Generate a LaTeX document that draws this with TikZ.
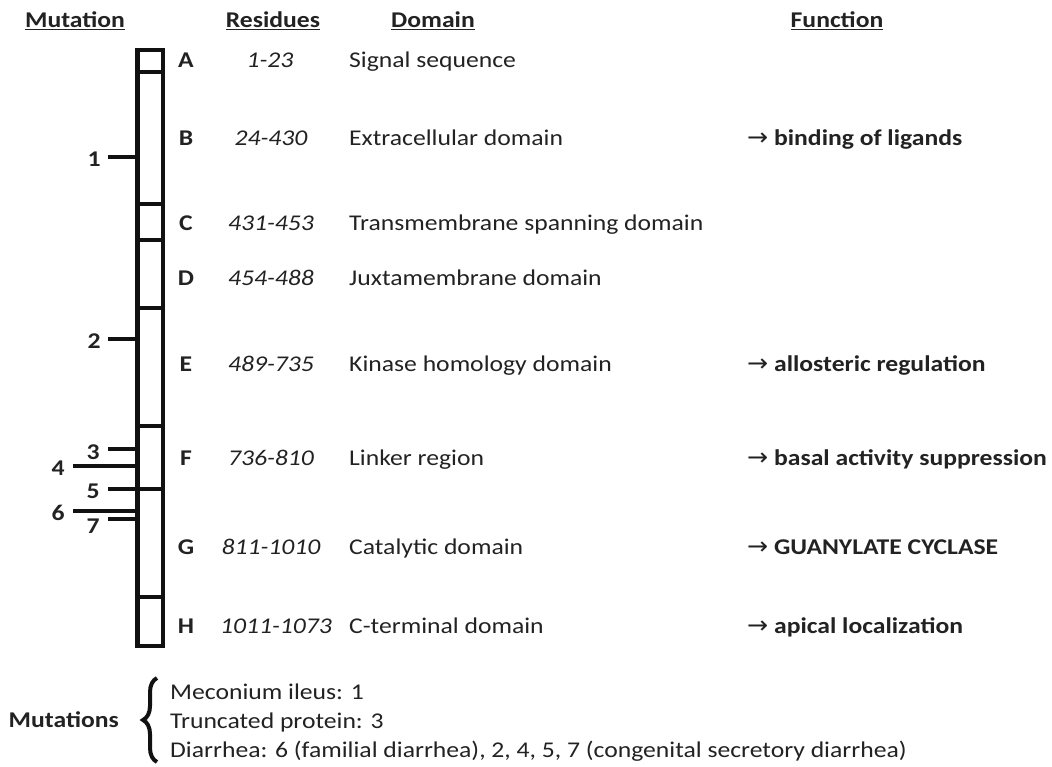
\documentclass[tikz,border=0pt]{standalone}
\usepackage{fontspec}
\setmainfont{Carlito}[FakeStretch=1.14]
\newfontfamily\arrowfont{DejaVu Sans}[FakeStretch=1.05]
\usepackage{tikz}
\usetikzlibrary{positioning, calc, decorations.pathreplacing}
\definecolor{inkblack}{HTML}{111111}
\definecolor{textgray}{HTML}{222222}
\newcommand{\funcarrow}{{\arrowfont\mdseries\fontsize{24}{27}\selectfont →}}

\begin{document}
\fontsize{22.5}{27}\selectfont
\begin{tikzpicture}[x=1pt, y=-1pt,
    seg/.style={rectangle, draw=inkblack, line width=4.5pt, minimum width=25.5pt, inner sep=0pt, minimum height=#1},
    tick/.style={draw=inkblack, line width=4.3pt},
    head/.style={anchor=base, inner sep=0pt, font=\bfseries, color=textgray},
    letter/.style={anchor=base, inner sep=0pt, font=\bfseries, color=textgray},
    res/.style={anchor=base, inner sep=0pt, font=\itshape, color=textgray},
    dom/.style={anchor=base west, inner sep=0pt, color=textgray},
    func/.style={anchor=base west, inner sep=0pt, font=\bfseries, color=textgray},
    num/.style={anchor=base, inner sep=0pt, font=\bfseries, color=textgray},
]
\useasboundingbox (0,0) rectangle (1052,767);

% Column headers
\node[head] (hmut) at (75,28) {\underline{Mutation}};
\node[head] (hres) at (273,28) {\underline{Residues}};
\node[head] (hdom) at (433,28) {\underline{Domain}};
\node[head] (hfun) at (837,28) {\underline{Function}};

% Protein bar, one box per domain
\node[seg=22pt] (segA) at (150,61) {};
\node[seg=132pt] (segB) at (150,138) {};
\node[seg=36pt] (segC) at (150,222) {};
\node[seg=68pt] (segD) at (150,274) {};
\node[seg=118pt] (segE) at (150,367) {};
\node[seg=63pt] (segF) at (150,457.5) {};
\node[seg=108pt] (segG) at (150,543) {};
\node[seg=49pt] (segH) at (150,621.5) {};

% Rows: letter, residues, domain, function
\node[letter] (lA) at (186,68) {A};
\node[res] (rA) at (270,68) {1-23};
\node[dom] (dA) at (349,68) {Signal sequence};

\node[letter] (lB) at (186,146) {B};
\node[res] (rB) at (271,146) {24-430};
\node[dom] (dB) at (349,146) {Extracellular domain};
\node[func] (fB) at (747,146) {\funcarrow{} binding of ligands};

\node[letter] (lC) at (186,231) {C};
\node[res] (rC) at (271,231) {431-453};
\node[dom] (dC) at (349,231) {Transmembrane spanning domain};

\node[letter] (lD) at (186,286) {D};
\node[res] (rD) at (271,286) {454-488};
\node[dom] (dD) at (349,286) {Juxtamembrane domain};

\node[letter] (lE) at (186,371) {E};
\node[res] (rE) at (271,371) {489-735};
\node[dom] (dE) at (349,371) {Kinase homology domain};
\node[func] (fE) at (747,371) {\funcarrow{} allosteric regulation};

\node[letter] (lF) at (186,465) {F};
\node[res] (rF) at (271,465) {736-810};
\node[dom] (dF) at (349,465) {Linker region};
\node[func] (fF) at (747,465) {\funcarrow{} basal activity suppression};

\node[letter] (lG) at (186,554) {G};
\node[res] (rG) at (271,554) {811-1010};
\node[dom] (dG) at (349,554) {Catalytic domain};
\node[func] (fG) at (747,554) {\funcarrow{} GUANYLATE CYCLASE};

\node[letter] (lH) at (186,633) {H};
\node[res] (rH) at (276,633) {1011-1073};
\node[dom] (dH) at (349,633) {C-terminal domain};
\node[func] (fH) at (747,633) {\funcarrow{} apical localization};

% Mutation ticks
\coordinate (t1) at (108,157);
\coordinate (t2) at (108,339);
\coordinate (t3) at (108,449);
\coordinate (t4) at (73,466);
\coordinate (t5) at (108,489);
\coordinate (t6) at (73,511);
\coordinate (t7) at (108,519);
\draw[tick] (t1) -- (t1 -| segB.west);
\draw[tick] (t2) -- (t2 -| segE.west);
\draw[tick] (t3) -- (t3 -| segF.west);
\draw[tick] (t4) -- (t4 -| segF.west);
\draw[tick] (t5) -- (t5 -| segF.west);
\draw[tick] (t6) -- (t6 -| segG.west);
\draw[tick] (t7) -- (t7 -| segG.west);
\node[num] (m1) at (94,167) {1};
\node[num] (m2) at (94,348) {2};
\node[num] (m3) at (93,459) {3};
\node[num] (m4) at (58,475) {4};
\node[num] (m5) at (93,498) {5};
\node[num] (m6) at (58,520) {6};
\node[num] (m7) at (93,533) {7};

% Legend with brace
\coordinate (blow) at (157,762);
\coordinate (bhigh) at (157,678);
\draw[decorate, decoration={brace, amplitude=14pt}, line width=4pt, draw=inkblack] (blow) -- (bhigh);
\node[num, anchor=base east] (legtitle) at (119,727) {Mutations};
\node[dom] (leg1) at (170,699) {Meconium ileus: 1};
\node[dom] (leg2) at (170,728) {Truncated protein: 3};
\node[dom] (leg3) at (170,757) {Diarrhea: 6 (familial diarrhea), 2, 4, 5, 7 (congenital secretory diarrhea)};

\end{tikzpicture}
\end{document}
